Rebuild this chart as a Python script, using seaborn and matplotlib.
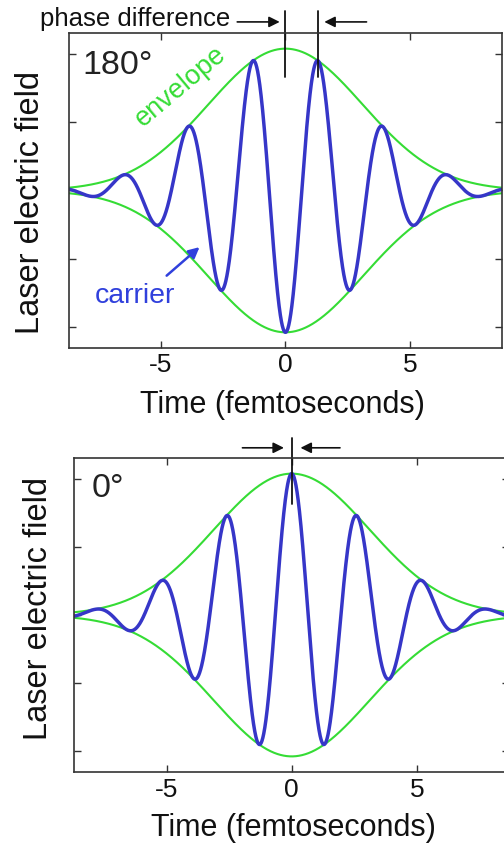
import numpy as np
import pandas as pd
import matplotlib
matplotlib.use("Agg")
import matplotlib.pyplot as plt
import seaborn as sns

# ---- chart parameters ----
panel_phase_deg = [180, 0]            # carrier-envelope phase per panel
panel_labels = ["180°", "0°"]
carrier_period_fs = 2.62              # carrier period
envelope_sigma_fs = 3.1               # gaussian envelope width
envelope_peak = 1.04                  # envelope amplitude
x_ticks = [-5, 0, 5]
x_tick_labels = ["-5", "0", "5"]
y_ticks = [-1.0, -0.5, 0.0, 0.5, 1.0]
x_range = [-8.7, 8.7]
y_range = [-1.155, 1.155]

GREEN = "#35dc35"
BLUE = "#3636c8"
TXTBLUE = "#3040dc"

sns.set_theme(style="white")
plt.rcParams["font.family"] = ["Liberation Sans", "DejaVu Sans"]

t = np.linspace(x_range[0], x_range[1], 2000)

fig = plt.figure(figsize=(5.04, 8.43), dpi=100)
ax_top = fig.add_axes([0.1369, 0.5872, 0.859, 0.3737])
ax_bot = fig.add_axes([0.1468, 0.0842, 0.864, 0.3725])

label_coords = {
    180: dict(x=(0.492, -0.133), y=(-0.053, 0.463)),
    0: dict(x=(0.503, -0.129), y=(-0.046, 0.522)),
}

for ax, phase, lab in zip([ax_top, ax_bot], panel_phase_deg, panel_labels):
    env = envelope_peak * np.exp(-t**2 / (2 * envelope_sigma_fs**2))
    carrier = env * np.cos(2 * np.pi * t / carrier_period_fs + np.deg2rad(phase))
    df = pd.DataFrame({"t": t, "env_hi": env, "env_lo": -env, "carrier": carrier})
    sns.lineplot(data=df, x="t", y="env_hi", ax=ax, color=GREEN, lw=1.5, estimator=None)
    sns.lineplot(data=df, x="t", y="env_lo", ax=ax, color=GREEN, lw=1.5, estimator=None)
    sns.lineplot(data=df, x="t", y="carrier", ax=ax, color=BLUE, lw=2.5, estimator=None)

    ax.set_xlim(*x_range)
    ax.set_ylim(*y_range)
    ax.set_xticks(x_ticks)
    ax.set_xticklabels(x_tick_labels)
    ax.set_yticks(y_ticks)
    ax.set_yticklabels([])
    ax.tick_params(axis="both", which="major", direction="in", length=5, width=1.0,
                   color="#333333", top=True, right=True, left=True, bottom=True,
                   labelsize=19, pad=3.5 if phase == 180 else 4.5, labelcolor="#111111")
    for s in ax.spines.values():
        s.set_color("#333333")
        s.set_linewidth(1.2)
        s.set_visible(True)
    ax.set_xlabel("Time (femtoseconds)", fontsize=22, color="#111111")
    ax.set_ylabel("Laser electric field", fontsize=23.5, color="#111111")
    ax.xaxis.set_label_coords(*label_coords[phase]["x"])
    ax.yaxis.set_label_coords(*label_coords[phase]["y"])
    ax.text(-8.15 if phase == 180 else -8.0, 0.852 if phase == 180 else 0.87, lab,
            fontsize=24.5, color="#222222", ha="left", va="baseline")

# ---- top panel annotations ----
ax = ax_top
for xv in [0.0, carrier_period_fs / 2]:
    ax.plot([xv, xv], [0.83, 1.317], color="#111111", lw=1.3, clip_on=False)
ax.annotate("", xy=(-0.12, 1.236), xytext=(-2.05, 1.236),
            arrowprops=dict(arrowstyle="-|>", color="#111111", lw=1.2, mutation_scale=16),
            annotation_clip=False)
ax.annotate("", xy=(1.45, 1.236), xytext=(3.37, 1.236),
            arrowprops=dict(arrowstyle="-|>", color="#111111", lw=1.2, mutation_scale=16),
            annotation_clip=False)
ax.text(-2.2, 1.26, "phase difference", fontsize=18.5, color="#111111",
        ha="right", va="center", clip_on=False)
ax.text(-4.2, 0.76, "envelope", fontsize=19.5, color=GREEN, rotation=40,
        ha="center", va="center", rotation_mode="anchor")
ax.text(-6.06, -0.823, "carrier", fontsize=20.5, color=TXTBLUE, ha="center", va="baseline")
ax.annotate("", xy=(-3.37, -0.402), xytext=(-4.86, -0.638),
            arrowprops=dict(arrowstyle="-|>", color=TXTBLUE, lw=1.8, mutation_scale=16))

# ---- bottom panel annotations ----
ax = ax_bot
ax.plot([0, 0], [0.82, 1.30], color="#111111", lw=1.3, clip_on=False)
ax.annotate("", xy=(-0.2, 1.23), xytext=(-2.08, 1.23),
            arrowprops=dict(arrowstyle="-|>", color="#111111", lw=1.2, mutation_scale=16),
            annotation_clip=False)
ax.annotate("", xy=(0.24, 1.23), xytext=(2.04, 1.23),
            arrowprops=dict(arrowstyle="-|>", color="#111111", lw=1.2, mutation_scale=16),
            annotation_clip=False)

fig.savefig("out.png", dpi=100)
